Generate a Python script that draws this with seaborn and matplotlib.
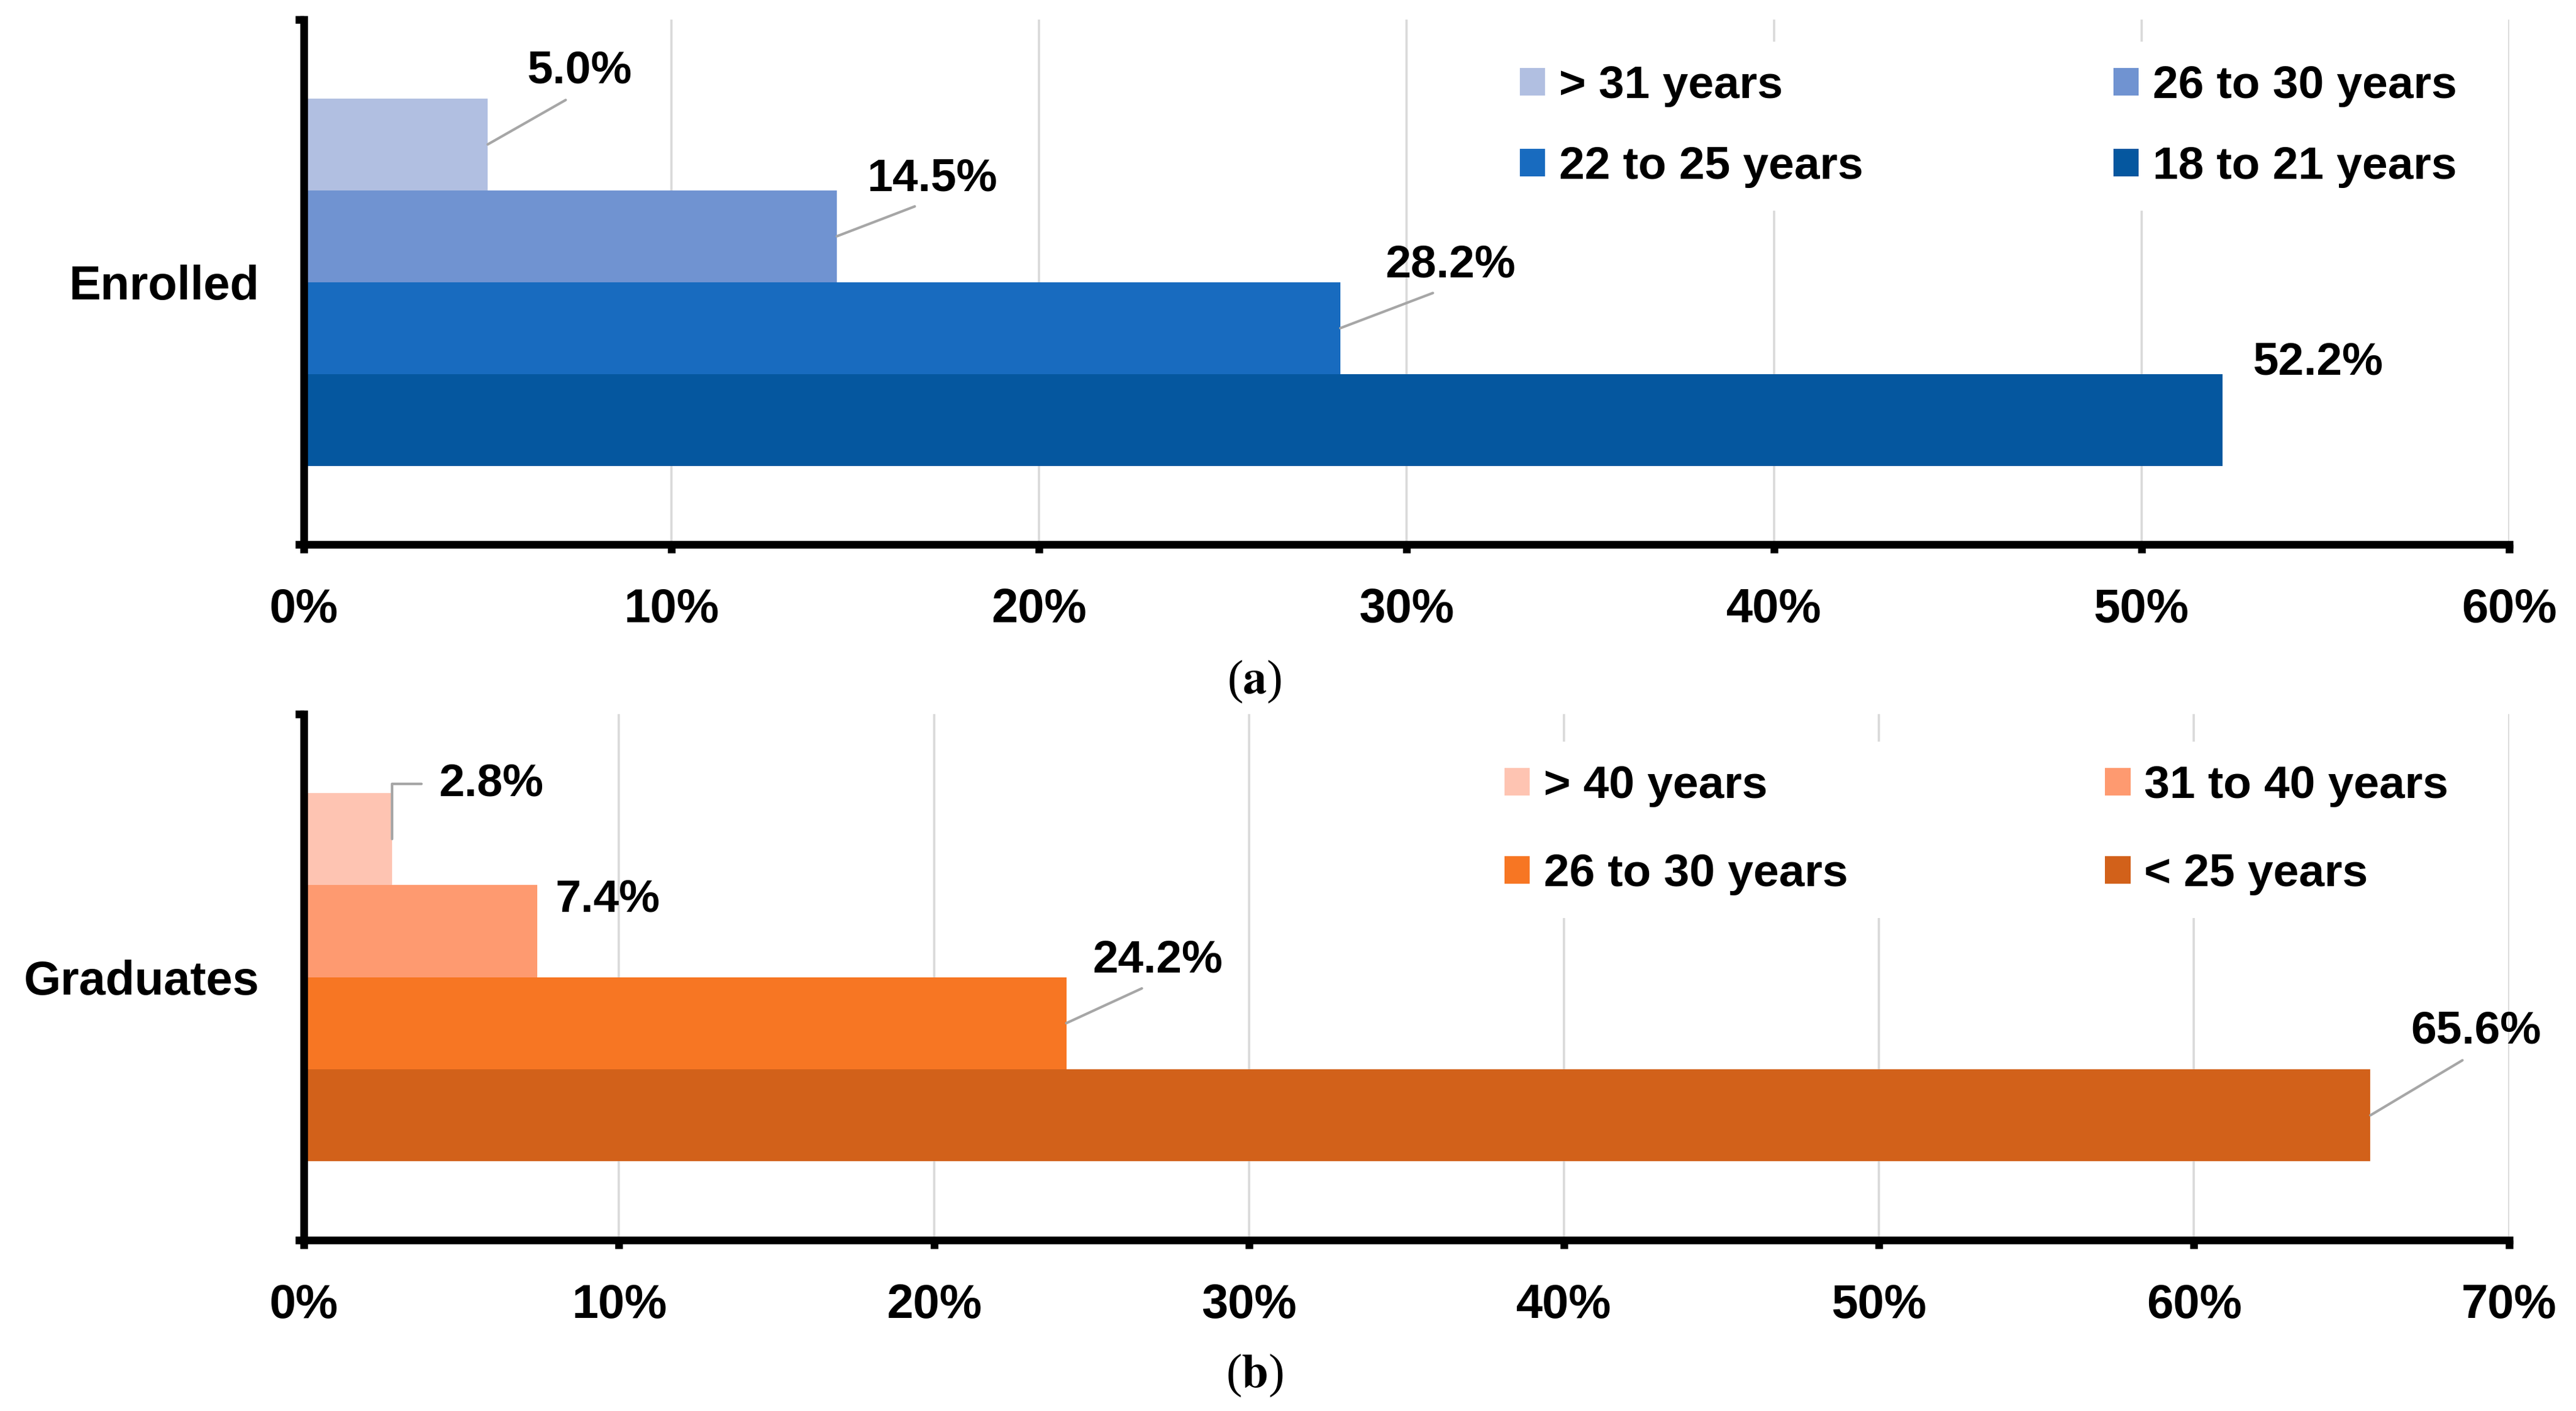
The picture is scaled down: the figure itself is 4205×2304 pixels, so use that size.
import pandas as pd
import matplotlib.pyplot as plt
import seaborn as sns
from matplotlib.patches import Patch
from matplotlib.ticker import FuncFormatter, MultipleLocator, FixedLocator

plt.switch_backend('Agg')

# Panel (a): enrolled students by age
enrolled_groups = ['> 31 years', '26 to 30 years', '22 to 25 years', '18 to 21 years']
enrolled_values = [5.0, 14.5, 28.2, 52.2]
enrolled_colors = ['#B1BFE1', '#7093D1', '#186BBF', '#05579F']

# Panel (b): graduates by age
graduate_groups = ['> 40 years', '31 to 40 years', '26 to 30 years', '< 25 years']
graduate_values = [2.8, 7.4, 24.2, 65.6]
graduate_colors = ['#FEC4B2', '#FE9A70', '#F77623', '#D2611A']

sns.set_style('white')
plt.rcParams['font.family'] = ['Liberation Sans', 'DejaVu Sans']
plt.rcParams['font.weight'] = 'bold'
plt.rcParams['mathtext.fontset'] = 'stix'
for key in ['text.color', 'axes.labelcolor', 'xtick.color', 'ytick.color']:
    plt.rcParams[key] = 'black'

LEADER = '#A6A6A6'


def draw_panel(ax, status, groups, values, colors, xmax, offsets, leg_anchor, leg_spacing, leg_colspacing):
    df = pd.DataFrame({'status': status, 'group': groups, 'pct': values})
    sns.barplot(data=df, x='pct', y='status', hue='group', hue_order=groups,
                palette=colors, width=0.7, saturation=1, orient='h',
                legend=False, linewidth=0, ax=ax)

    ax.set_xlim(0, xmax)
    ax.set_ylim(0.5, -0.5)
    ax.set_xlabel('')
    ax.set_ylabel('')
    ax.xaxis.set_major_locator(MultipleLocator(10))
    ax.xaxis.set_major_formatter(FuncFormatter(lambda v, p: f'{v:.0f}%'))
    ax.grid(axis='x', color='#D9D9D9', linewidth=1.3)
    ax.set_axisbelow(True)

    for side in ['top', 'right']:
        ax.spines[side].set_visible(False)
    for side in ['left', 'bottom']:
        ax.spines[side].set_linewidth(4.5)
        ax.spines[side].set_color('black')

    ax.tick_params(axis='x', bottom=True, length=5, width=4.5, direction='out',
                   pad=20, labelsize=28)
    ax.tick_params(axis='y', which='major', left=True, length=0, pad=26, labelsize=28)
    ax.yaxis.set_minor_locator(FixedLocator([-0.5, 0.5]))
    ax.tick_params(axis='y', which='minor', left=True, length=5, width=4.5, direction='out')

    # value labels, some with grey leader lines
    for cont, val, (dx, dy, style) in zip(ax.containers, values, offsets):
        bar = cont.patches[0]
        x_end = bar.get_width()
        y_mid = bar.get_y() + bar.get_height() / 2
        label = f'{val:.1f}%'
        if style == 'none':
            ax.text(x_end + dx, y_mid + dy, label, ha='center', va='center',
                    fontsize=27, fontweight='bold')
        elif style == 'elbow':
            ax.annotate(label, xy=(x_end, y_mid), xytext=(x_end + dx, y_mid + dy),
                        ha='center', va='center', fontsize=27, fontweight='bold',
                        arrowprops=dict(arrowstyle='-', color=LEADER, lw=1.5,
                                        relpos=(0, 0.5), shrinkA=8, shrinkB=0,
                                        connectionstyle='angle,angleA=0,angleB=90,rad=0'))
        else:
            ax.annotate(label, xy=(x_end, y_mid), xytext=(x_end + dx, y_mid + dy),
                        ha='center', va='center', fontsize=27, fontweight='bold',
                        arrowprops=dict(arrowstyle='-', color=LEADER, lw=1.5,
                                        relpos=(0.5, 0), shrinkA=5, shrinkB=0))

    # legend in row-major order, two columns
    order = [0, 2, 1, 3]
    handles = [Patch(facecolor=colors[i], edgecolor='none', label=groups[i]) for i in order]
    leg = ax.legend(handles=handles, ncol=2, loc='upper left', bbox_to_anchor=leg_anchor,
                    borderaxespad=0, borderpad=0.5, frameon=True, fancybox=False,
                    edgecolor='none', facecolor='white', framealpha=1,
                    fontsize=27, handlelength=0.55, handleheight=0.55,
                    handletextpad=0.3, labelspacing=leg_spacing,
                    columnspacing=leg_colspacing)
    for t in leg.get_texts():
        t.set_fontweight('bold')


fig = plt.figure(figsize=(21.025, 11.52), dpi=200)
ax_top = fig.add_axes([0.118, 0.614, 0.856, 0.372])
ax_bot = fig.add_axes([0.118, 0.121, 0.856, 0.373])

draw_panel(ax_top, 'Enrolled', enrolled_groups, enrolled_values, enrolled_colors, 60,
           [(2.5, -0.14, 'line'), (2.6, -0.11, 'line'), (3.0, -0.12, 'line'), (2.6, -0.11, 'none')],
           (0.541, 0.958), 0.84, 5.45)
draw_panel(ax_bot, 'Graduates', graduate_groups, graduate_values, graduate_colors, 70,
           [(3.15, -0.105, 'elbow'), (2.25, -0.06, 'none'), (2.9, -0.12, 'line'), (3.35, -0.16, 'line')],
           (0.534, 0.947), 1.0, 5.6)

fig.text(0.487, 0.517, r'($\mathbf{a}$)', ha='center', va='center', fontsize=28,
         family=['Liberation Serif', 'DejaVu Serif'], fontweight='normal')
fig.text(0.487, 0.025, r'($\mathbf{b}$)', ha='center', va='center', fontsize=28,
         family=['Liberation Serif', 'DejaVu Serif'], fontweight='normal')

fig.savefig('out.png', dpi=200)
plt.close('all')
